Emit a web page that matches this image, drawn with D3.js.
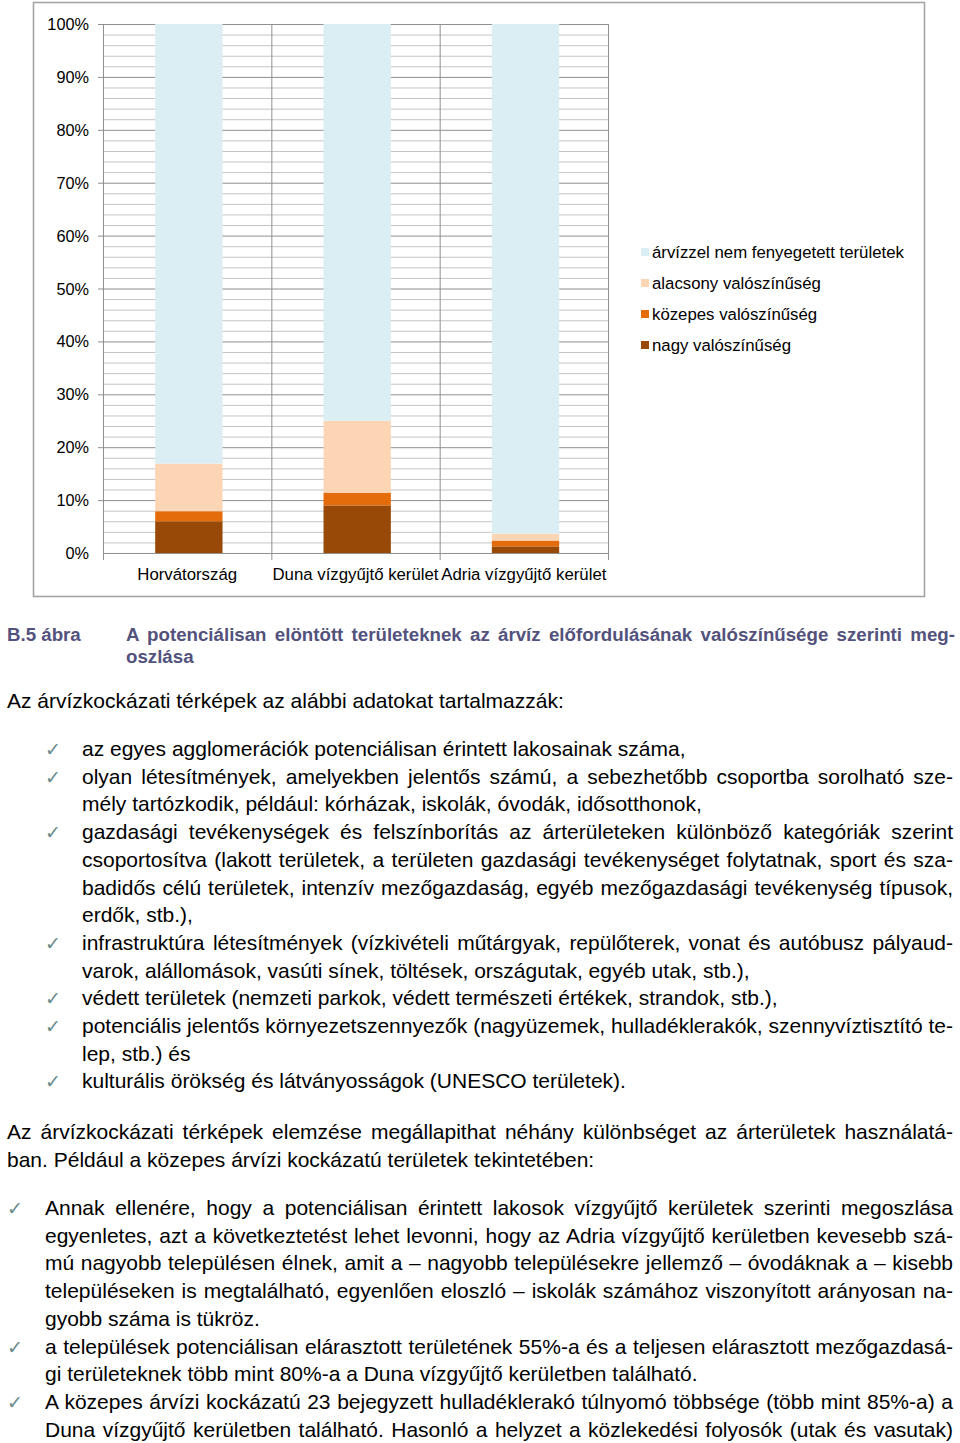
<!DOCTYPE html>
<html>
<head>
<meta charset="utf-8">
<style>
    body { margin: 0; background: #fff; }
    svg { display: block; font-family: 'Liberation Sans', Arial, sans-serif; }
</style>
</head>
<body>
<svg width="960" height="1443"></svg>

<script src="https://d3js.org/d3.v7.min.js"></script>
<script>
    // chart data (percent of potentially flooded area)
    let categories = ["Horvátország", "Duna vízgyűjtő kerület", "Adria vízgyűjtő kerület"]
    let seriesNames = ["nagy valószínűség", "közepes valószínűség", "alacsony valószínűség", "árvízzel nem fenyegetett területek"]
    let nagy = [6.0, 9.0, 1.25]
    let kozepes = [1.9, 2.4, 1.1]
    let alacsony = [9.0, 13.6, 1.3]
    let nemFenyegetett = [83.1, 75.0, 96.35]
    let seriesColors = ["#984807", "#e46c0a", "#fcd5b5", "#daeef3"]
    let yTicks = [0, 10, 20, 30, 40, 50, 60, 70, 80, 90, 100]

    let svg = d3.select("svg")

    // frame around the chart
    svg.append("rect")
        .attr("x", 33.5).attr("y", 2.5)
        .attr("width", 891).attr("height", 594)
        .attr("fill", "none")
        .attr("stroke", "#a5a5a5")
        .attr("stroke-width", 1.6)

    let x = d3.scaleBand().domain(categories).range([103, 608]).padding(0)
    let y = d3.scaleLinear().domain([0, 100]).range([553, 24])

    let grid = svg.append("g")
    // minor gridlines every 2%
    grid.selectAll(".minor")
        .data(d3.range(2, 101, 2).filter(v => v % 10 != 0))
        .join("line")
        .attr("x1", 103).attr("x2", 608)
        .attr("y1", d => y(d) + 0.5).attr("y2", d => y(d) + 0.5)
        .attr("stroke", "#c4c4c4")
    // major gridlines
    grid.selectAll(".major")
        .data(yTicks.filter(v => v > 0))
        .join("line")
        .attr("x1", 98).attr("x2", 608)
        .attr("y1", d => y(d) + 0.5).attr("y2", d => y(d) + 0.5)
        .attr("stroke", "#8f8f8f")
    // vertical category separators
    let edges = categories.map(c => x(c)).concat([x.range()[1]])
    grid.selectAll(".vsep")
        .data(edges)
        .join("line")
        .attr("x1", d => d + 0.5).attr("x2", d => d + 0.5)
        .attr("y1", y(100)).attr("y2", y(0) + 7)
        .attr("stroke", "#8f8f8f")

    // stacked bars
    let rows = categories.map((c, i) => ({
        cat: c, nagy: nagy[i], kozepes: kozepes[i], alacsony: alacsony[i], nem: nemFenyegetett[i]
    }))
    let stack = d3.stack().keys(["nagy", "kozepes", "alacsony", "nem"])(rows)

    svg.append("g")
        .selectAll("g")
        .data(stack)
        .join("g")
        .attr("fill", (d, i) => seriesColors[i])
        .selectAll("rect")
        .data(d => d)
        .join("rect")
        .attr("x", d => x(d.data.cat) + x.bandwidth() * 0.31)
        .attr("width", x.bandwidth() * 0.4)
        .attr("y", d => y(d[1]))
        .attr("height", d => y(d[0]) - y(d[1]))

    // x axis line
    svg.append("line")
        .attr("x1", 103).attr("x2", 608)
        .attr("y1", y(0) + 0.5).attr("y2", y(0) + 0.5)
        .attr("stroke", "#8f8f8f")
    // y axis line
    svg.append("line")
        .attr("x1", 103.5).attr("x2", 103.5)
        .attr("y1", y(100)).attr("y2", y(0))
        .attr("stroke", "#8f8f8f")

    svg.append("g")
        .selectAll("text")
        .data(yTicks)
        .join("text")
        .attr("x", 89)
        .attr("y", d => y(d) + 6)
        .attr("text-anchor", "end")
        .attr("font-size", 16.3)
        .text(d => d + "%")

    svg.append("g")
        .selectAll("text")
        .data(categories)
        .join("text")
        .attr("x", d => x(d) + x.bandwidth() / 2)
        .attr("y", 580)
        .attr("text-anchor", "middle")
        .attr("font-size", 16.8)
        .text(d => d)

    // legend (top to bottom reversed order)
    let legend = svg.append("g")
        .selectAll("g")
        .data(seriesNames.map((n, i) => ({ name: n, color: seriesColors[i] })).reverse())
        .join("g")
        .attr("transform", (d, i) => `translate(641, ${252 + i * 31})`)
    legend.append("rect")
        .attr("x", 0).attr("y", -4)
        .attr("width", 8).attr("height", 8)
        .attr("fill", d => d.color)
    legend.append("text")
        .attr("x", 11).attr("y", 6)
        .attr("font-size", 16.8)
        .text(d => d.name)

    // ---------- text below the chart ----------
    // justify a single svg text line to a target width via word-spacing
    function justify(sel, width) {
        sel.each(function () {
            let t = d3.select(this)
            let spaces = (t.text().match(/ /g) || []).length
            if (spaces == 0) return
            let natural = this.getComputedTextLength()
            t.style("word-spacing", ((width - natural) / spaces) + "px")
        })
    }

    function writeLine(txt, xPos, yPos, opts) {
        let t = svg.append("text")
            .attr("x", xPos).attr("y", yPos)
            .attr("font-size", opts.size || 21)
            .attr("fill", opts.color || "#000")
            .attr("font-weight", opts.bold ? "bold" : null)
            .text(txt)
        if (opts.justify) justify(t, opts.width)
        return t
    }

    function check(xPos, yPos) {
        svg.append("text")
            .attr("x", xPos).attr("y", yPos)
            .attr("font-family", "'DejaVu Sans', sans-serif")
            .attr("font-size", 19)
            .attr("fill", "#6a8c8c")
            .text("✓")
    }

    // caption
    let captionColor = "#52527d"
    writeLine("B.5 ábra", 7, 641, { size: 18.7, bold: true, color: captionColor })
    writeLine("A potenciálisan elöntött területeknek az árvíz előfordulásának valószínűsége szerinti meg-", 126, 641,
        { size: 18.7, bold: true, color: captionColor, justify: true, width: 829 })
    writeLine("oszlása", 126, 663, { size: 18.7, bold: true, color: captionColor })

    writeLine("Az árvízkockázati térképek az alábbi adatokat tartalmazzák:", 7, 708, {})

    let lh = 27.7
    let list1 = [
        ["az egyes agglomerációk potenciálisan érintett lakosainak száma,"],
        ["olyan létesítmények, amelyekben jelentős számú, a sebezhetőbb csoportba sorolható sze-",
         "mély tartózkodik, például: kórházak, iskolák, óvodák, idősotthonok,"],
        ["gazdasági tevékenységek és felszínborítás az árterületeken különböző kategóriák szerint",
         "csoportosítva (lakott területek, a területen gazdasági tevékenységet folytatnak, sport és sza-",
         "badidős célú területek, intenzív mezőgazdaság, egyéb mezőgazdasági tevékenység típusok,",
         "erdők, stb.),"],
        ["infrastruktúra létesítmények (vízkivételi műtárgyak, repülőterek, vonat és autóbusz pályaud-",
         "varok, alállomások, vasúti sínek, töltések, országutak, egyéb utak, stb.),"],
        ["védett területek (nemzeti parkok, védett természeti értékek, strandok, stb.),"],
        ["potenciális jelentős környezetszennyezők (nagyüzemek, hulladéklerakók, szennyvíztisztító te-",
         "lep, stb.) és"],
        ["kulturális örökség és látványosságok (UNESCO területek)."]
    ]
    let yy = 756
    list1.forEach(item => {
        check(45, yy)
        item.forEach((line, j) => {
            writeLine(line, 82, yy, { justify: j < item.length - 1, width: 953 - 82 })
            yy += lh
        })
    })

    let para = [
        "Az árvízkockázati térképek elemzése megállapithat néhány különbséget az árterületek használatá-",
        "ban. Például a közepes árvízi kockázatú területek tekintetében:"
    ]
    yy = 1139
    para.forEach((line, j) => {
        writeLine(line, 7, yy, { justify: j < para.length - 1, width: 953 - 7 })
        yy += lh
    })

    let list2 = [
        ["Annak ellenére, hogy a potenciálisan érintett lakosok vízgyűjtő kerületek szerinti megoszlása",
         "egyenletes, azt a következtetést lehet levonni, hogy az Adria vízgyűjtő kerületben kevesebb szá-",
         "mú nagyobb településen élnek, amit a – nagyobb településekre jellemző – óvodáknak a – kisebb",
         "településeken is megtalálható, egyenlően eloszló – iskolák számához viszonyított arányosan na-",
         "gyobb száma is tükröz."],
        ["a települések potenciálisan elárasztott területének 55%-a és a teljesen elárasztott mezőgazdasá-",
         "gi területeknek több mint 80%-a a Duna vízgyűjtő kerületben található."],
        ["A közepes árvízi kockázatú 23 bejegyzett hulladéklerakó túlnyomó többsége (több mint 85%-a) a",
         "Duna vízgyűjtő kerületben található. Hasonló a helyzet a közlekedési folyosók (utak és vasutak)"]
    ]
    yy = 1215
    list2.forEach((item, k) => {
        check(7, yy)
        item.forEach((line, j) => {
            let last = j == item.length - 1 && k < list2.length - 1
            writeLine(line, 45, yy, { justify: !last, width: 953 - 45 })
            yy += lh
        })
    })
</script>
</body>
</html>
